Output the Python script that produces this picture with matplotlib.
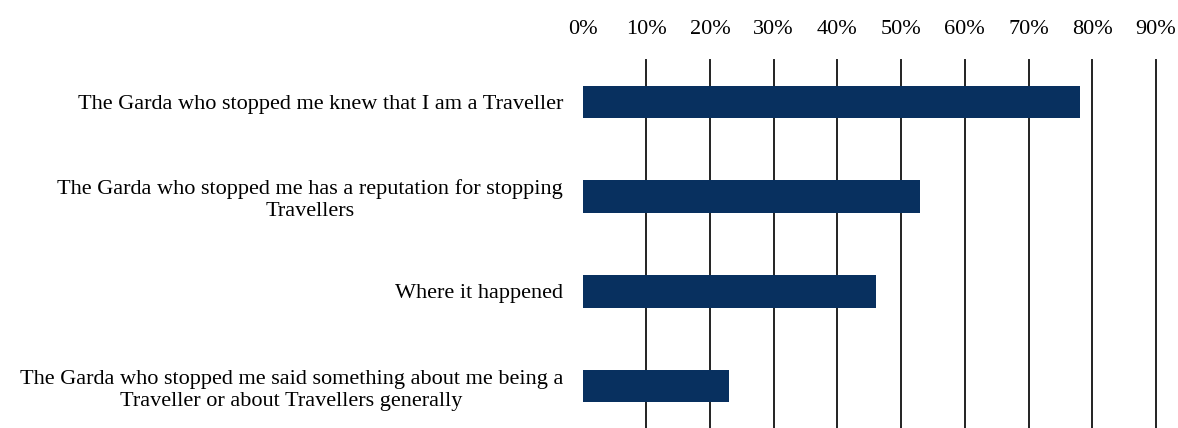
import matplotlib.pyplot as plt
import numpy as np

# Data
categories = [
    "The Garda who stopped me knew that I am a Traveller",
    "The Garda who stopped me has a reputation for stopping\nTravellers",
    "Where it happened",
    "The Garda who stopped me said something about me being a\nTraveller or about Travellers generally",
]
values = [0.78, 0.53, 0.46, 0.23]
tick_values = [0, 0.1, 0.2, 0.3, 0.4, 0.5, 0.6, 0.7, 0.8, 0.9]
tick_labels = ["0%", "10%", "20%", "30%", "40%", "50%", "60%", "70%", "80%", "90%"]


def main():
    plt.rcParams['font.family'] = ['Liberation Serif', 'DejaVu Serif']

    fig = plt.figure(figsize=(11.78, 4.28), dpi=100)
    ax = fig.add_axes([0.4945, 0.0, 0.4868, 0.86])

    y = np.arange(len(categories))
    ax.barh(y, values, height=0.34, color='#08305f', zorder=3)

    # limits
    ax.set_xlim(0, 0.9)
    ax.set_ylim(len(categories) - 0.56, -0.44)

    # top axis ticks
    ax.xaxis.tick_top()
    ax.set_xticks(tick_values)
    ax.set_xticklabels(tick_labels, fontsize=16)
    ax.tick_params(axis='x', length=0, pad=15, colors='black')

    ax.set_yticks(y)
    ax.set_yticklabels(categories, fontsize=16, multialignment='center',
                       linespacing=1.2)
    ax.tick_params(axis='y', length=0, pad=14)

    # vertical gridlines, none at 0
    for t in tick_values[1:]:
        ax.axvline(t, color='#222222', linewidth=1.4, zorder=1, clip_on=False)

    # Frame removal
    for s in ['top', 'right', 'bottom', 'left']:
        ax.spines[s].set_visible(False)

    fig.savefig('out.png', dpi=100)


if __name__ == "__main__":
    main()
